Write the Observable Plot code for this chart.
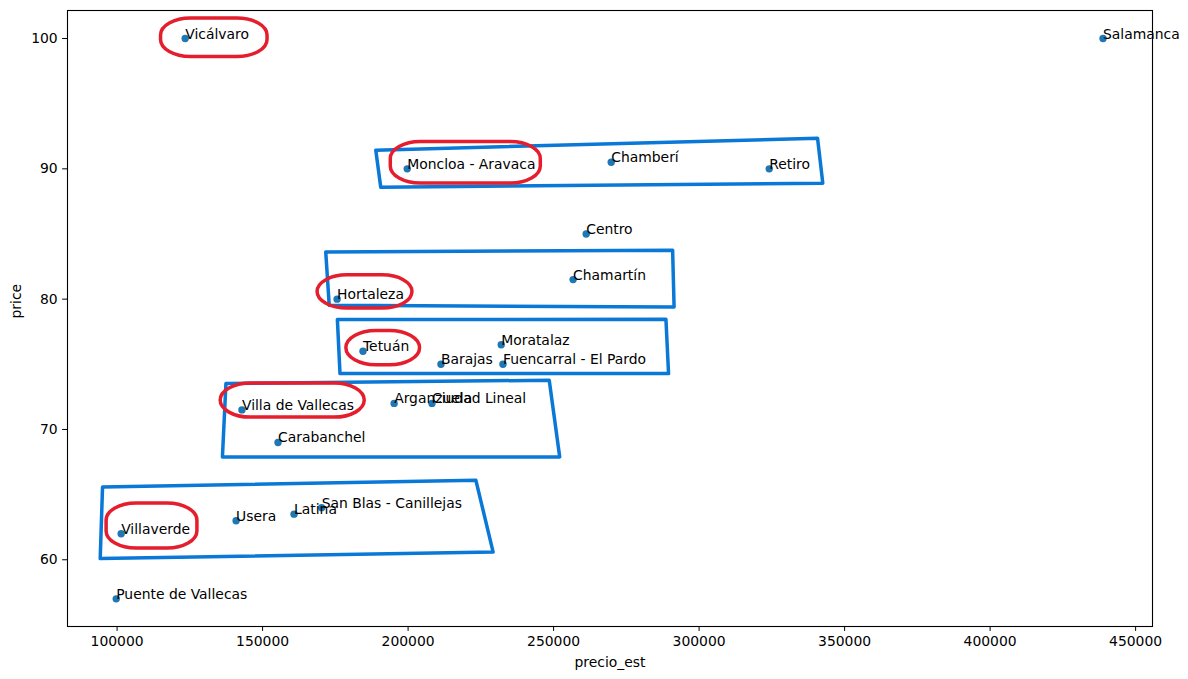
<!DOCTYPE html>
<html><head><meta charset="utf-8">
<script src="https://cdn.jsdelivr.net/npm/d3@7"></script>
<script src="https://cdn.jsdelivr.net/npm/@observablehq/plot@0.6"></script>
<style>body{margin:0;background:#fff} svg{font-family:"DejaVu Sans"}</style>
</head><body><div id="chart"></div>
<script>
// Data
const districts = ["Vicálvaro","Salamanca","Moncloa - Aravaca","Chamberí","Retiro","Centro","Chamartín","Hortaleza","Moratalaz","Tetuán","Barajas","Fuencarral - El Pardo","Arganzuela","Ciudad Lineal","Villa de Vallecas","Carabanchel","San Blas - Canillejas","Latina","Usera","Villaverde","Puente de Vallecas"];
const precioEst = [123400,438800,199700,269800,324100,261200,256700,175600,232000,184500,211300,232600,195200,208200,142900,155300,170300,160800,140900,101400,99700];
const price = [100,100,90,90.5,90,85,81.5,80,76.5,76,75,75,72,72,71.5,69,64,63.5,63,62,57];
const xTicks = [100000,150000,200000,250000,300000,350000,400000,450000];
const yTicks = [60,70,80,90,100];

// Hand-drawn annotations (data units)
const boxIds = [1,1,1,1,2,2,2,2,3,3,3,3,4,4,4,4,5,5,5,5];
const boxX = [188900,340700,342500,190600, 171700,290900,291400,172900, 175700,288600,289500,176600, 137400,248500,252100,136200, 95000,223300,229200,94200];
const boxY = [91.43,92.35,88.9,88.59, 83.62,83.75,79.4,79.53, 78.43,78.46,74.29,74.29, 73.52,73.78,67.89,67.89, 65.59,66.1,60.6,60.09];
const ringX1 = [115100,194050,168900,178800,135600,96400];
const ringX2 = [151700,245600,201500,204100,185100,127600];
const ringY1 = [98.59,88.87,79.28,74.93,70.91,60.86];
const ringY2 = [101.53,92.06,81.83,77.56,73.52,64.31];

const rows = districts.map((d,i)=>({name:d, x:precioEst[i], y:price[i]}));
const verts = boxIds.map((b,i)=>({box:b, x:boxX[i], y:boxY[i]}));
const rings = ringX1.map((_,i)=>({x1:ringX1[i], x2:ringX2[i], y1:ringY1[i], y2:ringY2[i]}));

const chart = Plot.plot({
  width: 1188, height: 679,
  marginLeft: 67, marginRight: 36, marginTop: 10, marginBottom: 53,
  style: {fontFamily: "DejaVu Sans", fontSize: "13.9px", background: "white", color: "black"},
  x: {domain: [82960, 455800]},
  y: {domain: [54.88, 102.15]},
  marks: [
    Plot.axisX({ticks: xTicks, tickFormat: d3.format("d"), tickSize: 4.9, tickPadding: 4.9, label: null}),
    Plot.axisY({ticks: yTicks, tickSize: 4.9, tickPadding: 4.9, label: null}),
    Plot.frame({stroke: "black", strokeWidth: 1.1}),
    Plot.text(["precio_est"], {frameAnchor: "bottom", dy: 40, lineAnchor: "bottom"}),
    Plot.text(["price"], {frameAnchor: "left", dx: -47, rotate: -90, lineAnchor: "bottom"}),
    Plot.dot(rows, {x: "x", y: "y", r: 3.7, fill: "#1f77b4"}),
    Plot.text(rows, {x: "x", y: "y", text: "name", textAnchor: "start", lineAnchor: "bottom", fill: "black"}),
    Plot.line(verts, {x: "x", y: "y", z: "box", curve: "linear-closed", stroke: "#0a78d7", strokeWidth: 3.5, strokeLinejoin: "round"}),
    Plot.rect(rings, {x1: "x1", x2: "x2", y1: "y1", y2: "y2", rx: 30, ry: 17, fill: "none", stroke: "#e41e2d", strokeWidth: 3.5})
  ]
});
document.getElementById("chart").appendChild(chart);
</script>
</body></html>
